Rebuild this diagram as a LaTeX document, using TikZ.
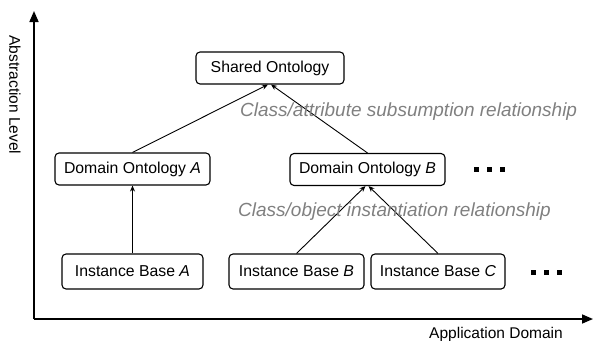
\documentclass[tikz,border=0pt]{standalone}
\usepackage{fontspec}
\setmainfont{Liberation Sans}
\usetikzlibrary{arrows.meta}
\begin{document}
\begin{tikzpicture}[x=1pt,y=-1pt,
  box/.style={draw, line width=1.1pt, rounded corners=4pt, inner sep=0pt,
    minimum height=32pt, font=\fontsize{15.8}{18}\selectfont},
  relation/.style={font=\fontsize{19}{22}\selectfont\itshape, text=black!50, inner sep=0pt},
  axislabel/.style={font=\fontsize{15.5}{18}\selectfont, inner sep=0pt},
  link/.style={line width=0.9pt, -{Stealth[length=6pt,width=5pt]}},
  axis/.style={line width=1.6pt, -{Triangle[length=11pt,width=9pt]}},
  dot/.style={fill=black, minimum size=5pt, inner sep=0pt}]
\useasboundingbox (0,0) rectangle (593,340);

% axes
\coordinate (origin) at (34,319);
\coordinate (ytip) at (34,11);
\coordinate (xtip) at (593,319);
\draw[axis] (origin) -- (ytip);
\draw[axis] (origin) -- (xtip);
\node[axislabel, rotate=-90] (ylab) at (15,95) {Abstraction Level};
\node[axislabel] (xlab) at (496,334) {Application Domain};

% ontology hierarchy
\node[box, minimum width=148pt] (so) at (270,68) {Shared Ontology};
\node[box, minimum width=155pt] (da) at (132.5,169) {Domain Ontology \textit{A}};
\node[box, minimum width=155pt] (db) at (367.5,169.5) {Domain Ontology \textit{B}};
\node[box, minimum width=141pt, minimum height=35pt] (ia) at (132.5,271.5) {Instance Base \textit{A}};
\node[box, minimum width=135pt, minimum height=35pt] (ib) at (296.5,271.5) {Instance Base \textit{B}};
\node[box, minimum width=134pt, minimum height=35pt] (ic) at (438,271.5) {Instance Base \textit{C}};

% continuation marks
\node[dot] (d1) at (476,169.5) {};
\node[dot] (d2) at (489,169.5) {};
\node[dot] (d3) at (502,169.5) {};
\node[dot] (e1) at (533.5,272) {};
\node[dot] (e2) at (546.5,272) {};
\node[dot] (e3) at (559.5,272) {};

% relationships
\draw[link] (da.north) -- ([xshift=-2pt]so.south);
\draw[link] (db.north) -- ([xshift=1pt]so.south);
\draw[link] (ia.north) -- (da.south);
\draw[link] (ib.north) -- ([xshift=-2pt]db.south);
\draw[link] (ic.north) -- ([xshift=1pt]db.south);

\node[relation, anchor=west] (sub) at (240,112) {Class/attribute subsumption relationship};
\node[relation, anchor=west] (inst) at (238,212) {Class/object instantiation relationship};
\end{tikzpicture}
\end{document}
